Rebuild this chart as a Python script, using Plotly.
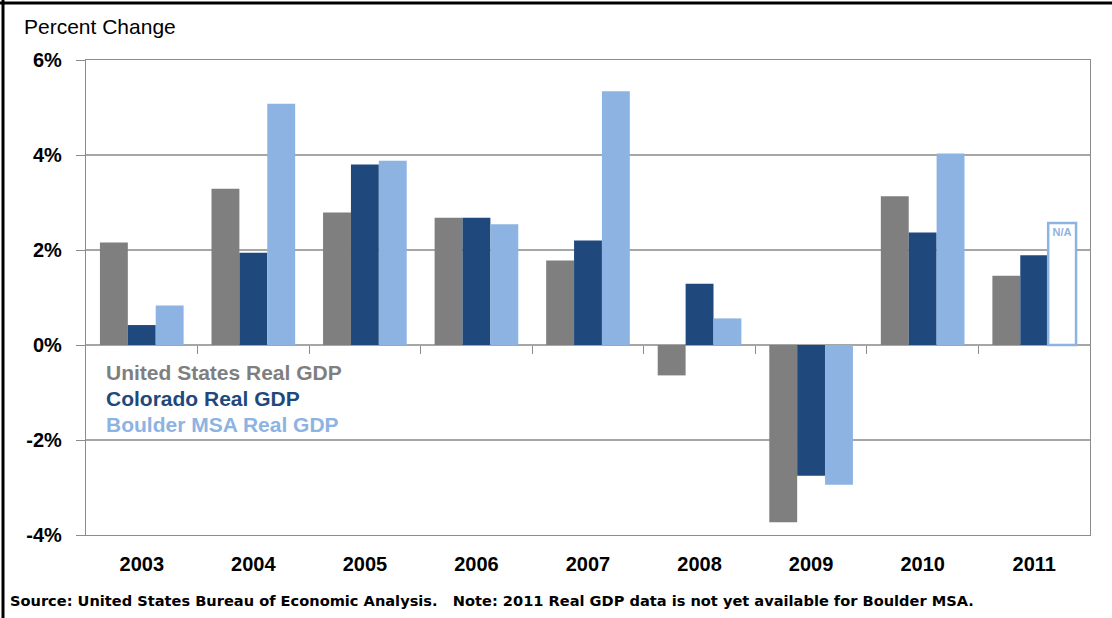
import plotly.graph_objects as go

years = ["2003", "2004", "2005", "2006", "2007", "2008", "2009", "2010", "2011"]
us_gdp = [2.16, 3.29, 2.79, 2.68, 1.78, -0.64, -3.73, 3.13, 1.46]
co_gdp = [0.42, 1.94, 3.80, 2.68, 2.20, 1.29, -2.75, 2.37, 1.89]
boulder_gdp = [0.83, 5.08, 3.88, 2.54, 5.34, 0.56, -2.94, 4.03, None]
na_placeholder = [None, None, None, None, None, None, None, None, 2.57]
y_ticks = [-4, -2, 0, 2, 4, 6]
y_tick_labels = ["-4%", "-2%", "0%", "2%", "4%", "6%"]

GREY = "#7f7f7f"
DARK = "#1f497d"
LIGHT = "#8db3e2"

fig = go.Figure()
fig.add_trace(go.Bar(x=years, y=us_gdp, name="United States Real GDP",
                     marker=dict(color=GREY, line=dict(width=0)), offsetgroup="a"))
fig.add_trace(go.Bar(x=years, y=co_gdp, name="Colorado Real GDP",
                     marker=dict(color=DARK, line=dict(width=0)), offsetgroup="b"))
fig.add_trace(go.Bar(x=years, y=boulder_gdp, name="Boulder MSA Real GDP",
                     marker=dict(color=LIGHT, line=dict(width=0)), offsetgroup="c"))
fig.add_trace(go.Bar(x=years, y=na_placeholder, name="N/A",
                     marker=dict(color="white", line=dict(color=LIGHT, width=2.5)),
                     offsetgroup="c", text=["N/A" if v is not None else "" for v in na_placeholder],
                     textposition="inside", insidetextanchor="end",
                     textfont=dict(family="Liberation Sans, Arial", size=11, color=LIGHT, weight="bold"),
                     constraintext="none"))

fig.update_layout(
    width=1112, height=618,
    margin=dict(l=86, r=22, t=60, b=83),
    paper_bgcolor="white", plot_bgcolor="white",
    barmode="group", bargap=0.25, bargroupgap=0,
    showlegend=False,
    font=dict(family="Liberation Sans, Arial", color="black"),
    xaxis=dict(
        type="category", range=[-0.5, 8.5],
        showline=True, linecolor="#8c8c8c", linewidth=1.2, mirror=True,
        ticks="", showgrid=False,
        tickfont=dict(family="Liberation Sans, Arial", size=20, color="black", weight="bold"),
        ticklabelstandoff=11,
    ),
    xaxis2=dict(
        overlaying="x", anchor="free", position=0.4, side="bottom",
        range=[-0.5, 8.5], type="linear",
        tickvals=[i + 0.5 for i in range(len(years) - 1)],
        ticks="outside", ticklen=8, tickcolor="#8c8c8c", tickwidth=1,
        showticklabels=False, showline=False, showgrid=False, zeroline=False,
    ),
    yaxis=dict(
        range=[-4, 6], tickvals=y_ticks, ticktext=y_tick_labels,
        showline=True, linecolor="#8c8c8c", linewidth=1.2, mirror=True,
        showgrid=True, gridcolor="#a6a6a6", gridwidth=1.5,
        zeroline=True, zerolinecolor="#a6a6a6", zerolinewidth=1.5,
        ticks="outside", ticklen=9, tickcolor="#8c8c8c",
        tickfont=dict(family="Liberation Sans, Arial", size=20, color="black", weight="bold"),
        ticklabelstandoff=10,
    ),
)

# invisible trace to activate xaxis2
fig.add_trace(go.Scatter(x=[0], y=[0], xaxis="x2", mode="markers",
                         marker=dict(opacity=0), hoverinfo="skip", showlegend=False))

def px_x(px):
    return (px - 86) / 1004

def px_y(py):
    return (535 - py) / 475

fig.add_annotation(text="Percent Change", xref="paper", yref="paper",
                   x=px_x(22), y=px_y(27), xanchor="left", yanchor="middle",
                   showarrow=False, font=dict(family="Liberation Sans, Arial", size=21, color="black"))

legend_items = [("United States Real GDP", GREY, 372), ("Colorado Real GDP", DARK, 398),
                ("Boulder MSA Real GDP", LIGHT, 424)]
for label, col, py in legend_items:
    fig.add_annotation(text=label, xref="paper", yref="paper", x=px_x(104), y=px_y(py),
                       xanchor="left", yanchor="middle", showarrow=False,
                       font=dict(family="Liberation Sans, Arial", size=21, color=col, weight="bold"))

fig.add_annotation(text="Source: United States Bureau of Economic Analysis.   Note: 2011 Real GDP data is not yet available for Boulder MSA.",
                   xref="paper", yref="paper", x=px_x(8), y=px_y(600), xanchor="left", yanchor="middle",
                   showarrow=False, font=dict(family="DejaVu Sans, Verdana", size=14.6, color="black", weight="bold"))

# outer frame lines (top and left)
fig.add_shape(type="line", xref="paper", yref="paper", x0=px_x(0), x1=px_x(1112), y0=px_y(3), y1=px_y(3),
              line=dict(color="black", width=3))
fig.add_shape(type="line", xref="paper", yref="paper", x0=px_x(3), x1=px_x(3), y0=px_y(0), y1=px_y(618),
              line=dict(color="black", width=3))

fig.write_html("out.html")
